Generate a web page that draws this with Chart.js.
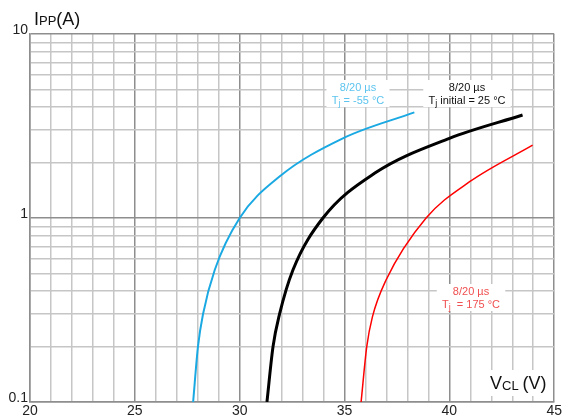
<!DOCTYPE html>
<html>
<head>
<meta charset="utf-8">
<script src="https://cdn.jsdelivr.net/npm/chart.js@4.4.0/dist/chart.umd.min.js"></script>
<style>
  html, body { margin: 0; padding: 0; background: #fff; }
  #wrap { width: 563px; height: 418px; }
</style>
</head>
<body>
<div id="wrap"><canvas id="vclChart"></canvas></div>
<script>
// clamping voltage vs peak pulse current, 8/20 us
const vclCold = [27.78, 28.01, 28.25, 28.81, 30.0, 31.9, 34.92, 38.33];
const ippCold = [0.1, 0.2, 0.3, 0.522, 1.0, 1.68, 2.71, 3.75];

const vclRoom = [31.3, 31.59, 31.9, 32.54, 33.97, 36.43, 40.0, 43.49];
const ippRoom = [0.1, 0.2, 0.3, 0.522, 1.0, 1.75, 2.71, 3.63];

const vclHot = [35.79, 36.06, 36.33, 36.98, 38.89, 40.95, 43.97];
const ippHot = [0.1, 0.2, 0.29, 0.46, 1.0, 1.57, 2.49];

const yTicks = [0.1, 0.2, 0.3, 0.4, 0.5, 0.6, 0.7, 0.8, 0.9, 1, 2, 3, 4, 5, 6, 7, 8, 9, 10];
const yMajor = [0.1, 1, 10];
const xMin = 20, xMax = 45;

function pts(xs, ys) {
    return xs.map((x, i) => ({ x: x, y: ys[i] }));
}

const FONT = "'Liberation Sans', Arial, sans-serif";
const MAJOR = '#8e8e8e';
const MINOR = '#c6c6c6';

// text boxes on the plot
const notes = [
    { x: 358, y: 88, color: '#5cc4ee', lines: [['8/20 µs'], ['T', 'j', ' = -55 °C']] },
    { x: 467, y: 88, color: '#111', lines: [['8/20 µs'], ['T', 'j', ' initial = 25 °C']] },
    { x: 471, y: 292, color: '#f05050', lines: [['8/20 µs'], ['T', 'j', '  = 175 °C']] }
];

function drawSub(ctx, parts, cx, y, big, small, subDrop) {
    // parts: [main, sub, rest]
    ctx.font = big + 'px ' + FONT;
    let w0 = ctx.measureText(parts[0]).width;
    let w2 = parts[2] ? ctx.measureText(parts[2]).width : 0;
    ctx.font = small + 'px ' + FONT;
    let w1 = parts[1] ? ctx.measureText(parts[1]).width : 0;
    let x = cx - (w0 + w1 + w2) / 2;
    ctx.textAlign = 'left';
    ctx.font = big + 'px ' + FONT;
    ctx.fillText(parts[0], x, y);
    if (parts[1]) {
        ctx.font = small + 'px ' + FONT;
        ctx.fillText(parts[1], x + w0, y + subDrop);
    }
    if (parts[2]) {
        ctx.font = big + 'px ' + FONT;
        ctx.fillText(parts[2], x + w0 + w1, y);
    }
    return w0 + w1 + w2;
}

const textPlugin = {
    id: 'texts',
    afterDatasetsDraw(chart) {
        const ctx = chart.ctx;
        ctx.save();
        ctx.textBaseline = 'middle';
        notes.forEach(n => {
            ctx.font = '11px ' + FONT;
            let w = 0;
            n.lines.forEach(l => { w = Math.max(w, ctx.measureText(l.join('')).width); });
            ctx.fillStyle = '#fff';
            ctx.fillRect(n.x - w / 2 - 5, n.y - 8, w + 10, 27);
            ctx.fillStyle = n.color;
            drawSub(ctx, n.lines[0], n.x, n.y, 11, 9, 3);
            drawSub(ctx, n.lines[1], n.x, n.y + 13, 11, 9, 3);
        });

        // axis titles
        ctx.textBaseline = 'alphabetic';
        ctx.fillStyle = '#111';
        ctx.font = '18px ' + FONT;
        let x = 34;
        ctx.textAlign = 'left';
        ctx.fillText('I', x, 25);
        x += ctx.measureText('I').width;
        ctx.font = '13px ' + FONT;
        ctx.fillText('PP', x, 25);
        x += ctx.measureText('PP').width;
        ctx.font = '18px ' + FONT;
        ctx.fillText('(A)', x, 25);

        ctx.fillStyle = '#fff';
        ctx.fillRect(486, 370, 66, 26);
        ctx.fillStyle = '#111';
        x = 490;
        ctx.font = '18px ' + FONT;
        ctx.fillText('V', x, 389);
        x += ctx.measureText('V').width;
        ctx.font = '13px ' + FONT;
        ctx.fillText('CL', x, 390);
        x += ctx.measureText('CL').width + 4;
        ctx.font = '18px ' + FONT;
        ctx.fillText('(V)', x, 389);
        ctx.restore();
    }
};

const ctx = document.getElementById('vclChart').getContext('2d');
const myChart = new Chart(ctx, {
    type: 'line',
    data: {
        datasets: [{
            label: 'Tj = -55 °C',
            data: pts(vclCold, ippCold),
            borderColor: '#1aa9e2',
            borderWidth: 2,
            pointRadius: 0,
            fill: false,
            cubicInterpolationMode: 'monotone'
        }, {
            label: 'Tj initial = 25 °C',
            data: pts(vclRoom, ippRoom),
            borderColor: '#000',
            borderWidth: 3,
            pointRadius: 0,
            fill: false,
            cubicInterpolationMode: 'monotone'
        }, {
            label: 'Tj = 175 °C',
            data: pts(vclHot, ippHot),
            borderColor: '#ff0000',
            borderWidth: 1.5,
            pointRadius: 0,
            fill: false,
            cubicInterpolationMode: 'monotone'
        }]
    },
    options: {
        responsive: true,
        maintainAspectRatio: false,
        animation: false,
        layout: { padding: { top: 34, right: 8, left: 0, bottom: 0 } },
        plugins: { legend: { display: false }, tooltip: { enabled: false } },
        scales: {
            x: {
                type: 'linear',
                min: xMin,
                max: xMax,
                afterFit: s => { s.height = 16; },
                border: { color: MAJOR, width: 1.5 },
                grid: {
                    drawTicks: false,
                    lineWidth: 1.5,
                    color: c => (c.tick && c.tick.value % 5 === 0) ? MAJOR : MINOR
                },
                ticks: {
                    stepSize: 1,
                    autoSkip: false,
                    maxRotation: 0,
                    padding: 1,
                    color: '#222',
                    font: { family: FONT, size: 14 },
                    callback: v => (v % 5 === 0 ? String(v) : '')
                }
            },
            y: {
                type: 'logarithmic',
                min: 0.1,
                max: 10,
                afterFit: s => { s.width = 30; },
                afterBuildTicks: s => { s.ticks = yTicks.map(v => ({ value: v })); },
                border: { color: MAJOR, width: 1.5 },
                grid: {
                    drawTicks: false,
                    lineWidth: 1.5,
                    color: c => (c.tick && yMajor.includes(c.tick.value)) ? MAJOR : MINOR
                },
                ticks: {
                    autoSkip: false,
                    padding: 2,
                    labelOffset: -4,
                    color: '#222',
                    font: { family: FONT, size: 14 },
                    callback: v => (yMajor.includes(v) ? String(v) : '')
                }
            }
        }
    },
    plugins: [textPlugin]
});
</script>
</body>
</html>
